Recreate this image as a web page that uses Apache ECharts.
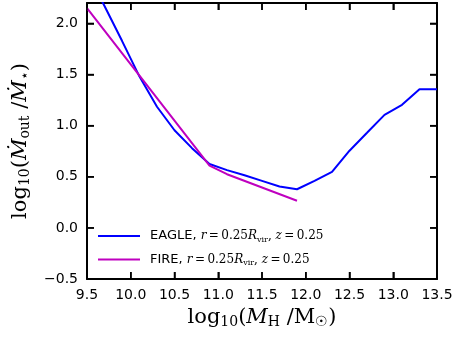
<!DOCTYPE html>
<html>
<head>
<meta charset="utf-8">
<script src="https://cdn.jsdelivr.net/npm/echarts@6/dist/echarts.min.js"></script>
<style>
  html, body { margin: 0; padding: 0; background: #fff; }
  #main { width: 460px; height: 345px; }
</style>
</head>
<body>
<div id="main"></div>
<script>
// halo mass (x) and outflow loading (y)
var eagleX = [9.5, 9.7, 9.9, 10.1, 10.3, 10.5, 10.7, 10.9, 11.1, 11.3, 11.5, 11.7, 11.9, 12.1, 12.3, 12.5, 12.7, 12.9, 13.1, 13.3, 13.5];
var eagleY = [2.5, 2.17, 1.83, 1.48, 1.185, 0.955, 0.78, 0.625, 0.565, 0.515, 0.46, 0.405, 0.378, 0.46, 0.547, 0.755, 0.93, 1.106, 1.204, 1.357, 1.357];
var fireX = [9.5, 10.0, 10.5, 10.9, 11.1, 11.5, 11.9];
var fireY = [2.15, 1.60, 1.05, 0.61, 0.525, 0.395, 0.265];
var xTicks = [9.5, 10.0, 10.5, 11.0, 11.5, 12.0, 12.5, 13.0, 13.5];
var yTicks = [-0.5, 0.0, 0.5, 1.0, 1.5, 2.0];

function pairs(xs, ys) {
  var out = [];
  for (var i = 0; i < xs.length; i++) out.push([xs[i], ys[i]]);
  return out;
}

var sans = 'DejaVu Sans';
var serif = 'DejaVu Serif';

var legendRich = {
  a: { fontFamily: sans, fontSize: 13, color: '#000' },
  i: { fontFamily: serif, fontStyle: 'italic', fontSize: 12, color: '#000' },
  m: { fontFamily: serif, fontSize: 12, color: '#000' },
  s: { fontFamily: serif, fontSize: 8, color: '#000', padding: [7, 0, 0, 0] }
};

var nameRich = {
  n: { fontFamily: serif, fontSize: 21, color: '#000' },
  i: { fontFamily: serif, fontStyle: 'italic', fontSize: 21, color: '#000' },
  s: { fontFamily: serif, fontSize: 14, color: '#000', padding: [9, 0, 0, 0] }
};

function axisBase(min, max) {
  return {
    type: 'value',
    min: min,
    max: max,
    interval: 0.5,
    splitLine: { show: false },
    axisLine: { show: true, onZero: false, lineStyle: { color: '#000', width: 2 } },
    axisTick: { show: true, inside: true, length: 7, lineStyle: { color: '#000', width: 1.5 } }
  };
}

var fmt = function (v, list) {
  for (var i = 0; i < list.length; i++) {
    if (Math.abs(list[i] - v) < 1e-6) return v < 0 ? '\u2212' + Math.abs(v).toFixed(1) : v.toFixed(1);
  }
  return '';
};

// inward tick marks on all four sides, placed through the axes' scales
function tickSeries(side) {
  var isX = side === 'bottom' || side === 'top';
  var data = isX ? xTicks.map(function (v) { return [v, 0]; }) : yTicks.map(function (v) { return [10, v]; });
  return {
    type: 'custom',
    silent: true,
    z: 5,
    data: data,
    renderItem: function (params, api) {
      var cs = params.coordSys;
      var p = api.coord([api.value(0), api.value(1)]);
      var L = 7, s;
      if (side === 'bottom') s = { x1: p[0], y1: cs.y + cs.height, x2: p[0], y2: cs.y + cs.height - L };
      else if (side === 'top') s = { x1: p[0], y1: cs.y, x2: p[0], y2: cs.y + L };
      else if (side === 'left') s = { x1: cs.x, y1: p[1], x2: cs.x + L, y2: p[1] };
      else s = { x1: cs.x + cs.width, y1: p[1], x2: cs.x + cs.width - L, y2: p[1] };
      return { type: 'line', shape: s, style: { stroke: '#000', lineWidth: 1.5 } };
    }
  };
}

var chart = echarts.init(document.getElementById('main'));
var option = {
  backgroundColor: '#fff',
  animation: false,
  grid: { left: 87, right: 23, top: 3, bottom: 66 },
  legend: {
    orient: 'vertical',
    left: 98,
    top: 226,
    padding: 0,
    itemWidth: 42,
    itemHeight: 2,
    itemGap: 3.6,
    icon: 'rect',
    textStyle: { lineHeight: 20, padding: [0, 0, 0, 5], rich: legendRich },
    data: ['EAGLE', 'FIRE'],
    formatter: function (name) {
      return '{a|' + name + ', }{i|r}{m|\u2009=\u20090.25}{i|R}{s|vir}{m|, }{i|z}{m|\u2009=\u20090.25}';
    }
  },
  xAxis: [
    Object.assign(axisBase(9.5, 13.5), {
      position: 'bottom',
      name: '{n|log}{s|10}{n|(}{i|M}{s|H}{n| /M}{s|\u2609}{n|)}',
      nameLocation: 'middle',
      nameGap: 24,
      nameTextStyle: { rich: nameRich },
      axisLabel: {
        show: true, margin: 9, fontFamily: sans, fontSize: 14, color: '#000',
        formatter: function (v) { return fmt(v, xTicks); }
      }
    }),
    Object.assign(axisBase(9.5, 13.5), { position: 'top', axisLabel: { show: false } })
  ],
  yAxis: [
    Object.assign(axisBase(-0.5, 2.2), {
      position: 'left',
      name: '{n|log}{s|10}{n|(}{i|\u1E40}{s|out}{n| /}{i|\u1E40}{s|\u22C6}{n|)}',
      nameLocation: 'middle',
      nameRotate: 90,
      nameGap: 55,
      nameTextStyle: { rich: nameRich },
      axisLabel: {
        show: true, margin: 9, fontFamily: sans, fontSize: 14, color: '#000',
        formatter: function (v) { return fmt(v, yTicks); }
      }
    }),
    Object.assign(axisBase(-0.5, 2.2), { position: 'right', axisLabel: { show: false } })
  ],
  series: [
    {
      name: 'EAGLE',
      type: 'line',
      data: pairs(eagleX, eagleY),
      showSymbol: false,
      symbol: 'none',
      clip: true,
      lineStyle: { color: '#0000ff', width: 2 },
      itemStyle: { color: '#0000ff' }
    },
    {
      name: 'FIRE',
      type: 'line',
      data: pairs(fireX, fireY),
      showSymbol: false,
      symbol: 'none',
      clip: true,
      lineStyle: { color: '#bf00bf', width: 2 },
      itemStyle: { color: '#bf00bf' }
    },
    tickSeries('bottom'),
    tickSeries('top'),
    tickSeries('left'),
    tickSeries('right')
  ]
};
chart.setOption(option);
</script>
</body>
</html>
